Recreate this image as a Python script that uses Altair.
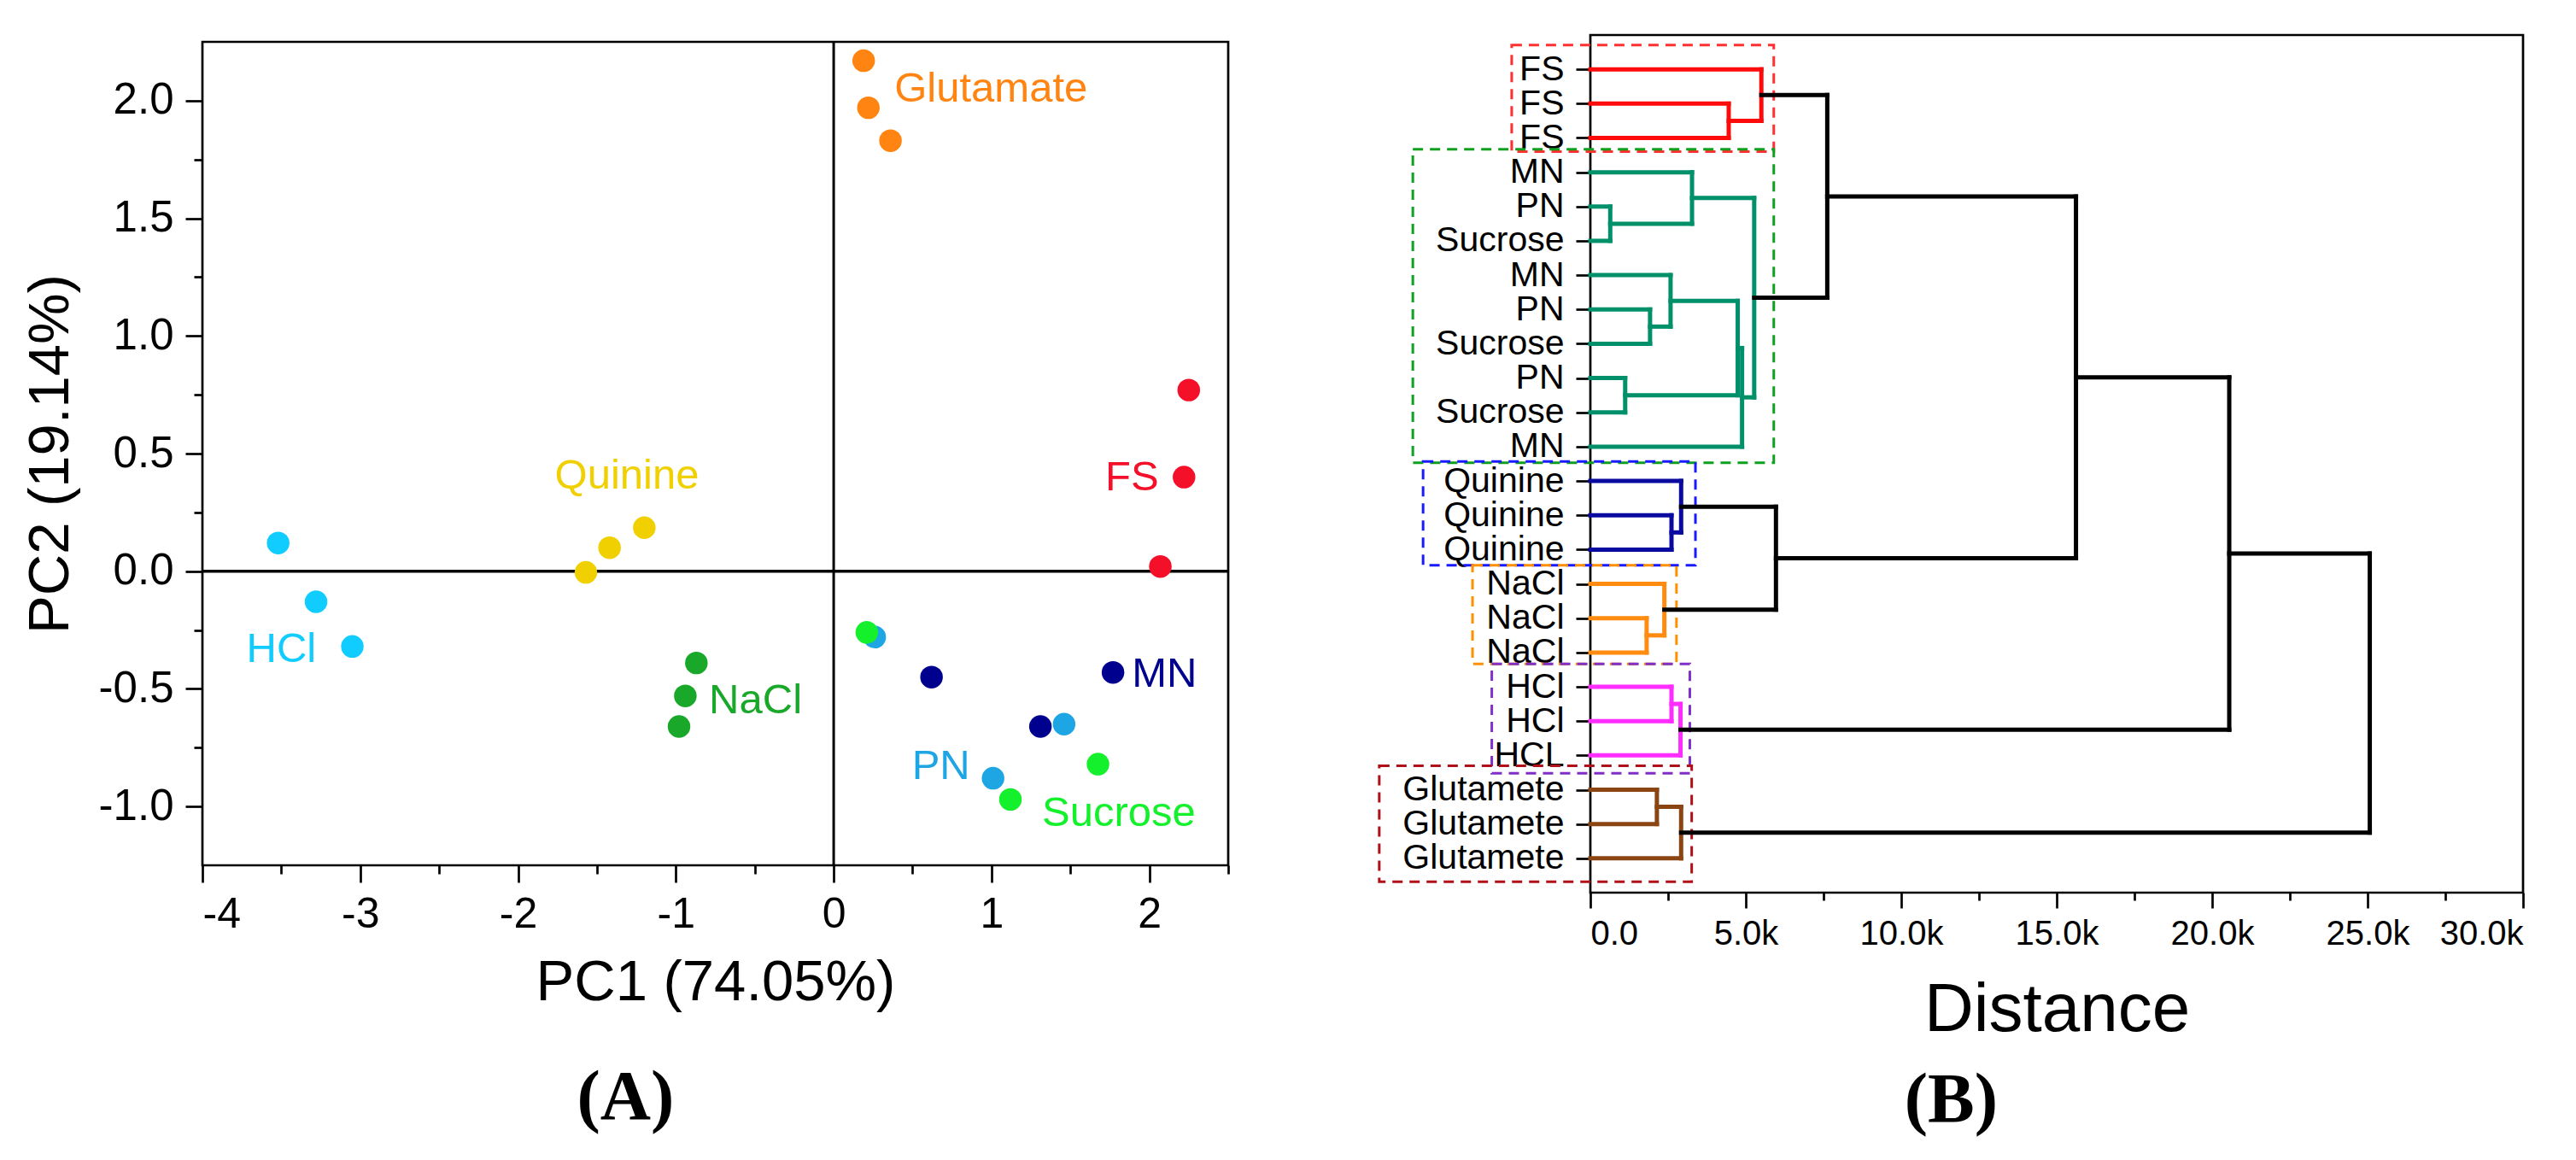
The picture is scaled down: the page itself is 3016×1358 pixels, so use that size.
import altair as alt
import pandas as pd

# ---------------- Panel A : PCA score plot ----------------
mn_pc1 = [0.62, 1.31, 1.77]
mn_pc2 = [-0.45, -0.66, -0.43]
pn_pc1 = [0.26, 1.01, 1.46]
pn_pc2 = [-0.28, -0.88, -0.65]
suc_pc1 = [0.21, 1.12, 1.675]
suc_pc2 = [-0.26, -0.97, -0.82]
glu_pc1 = [0.19, 0.22, 0.36]
glu_pc2 = [2.17, 1.97, 1.83]
fs_pc1 = [2.25, 2.22, 2.07]
fs_pc2 = [0.77, 0.40, 0.02]
qui_pc1 = [-1.20, -1.42, -1.57]
qui_pc2 = [0.185, 0.10, -0.005]
hcl_pc1 = [-3.52, -3.28, -3.05]
hcl_pc2 = [0.12, -0.13, -0.32]
nacl_pc1 = [-0.87, -0.94, -0.98]
nacl_pc2 = [-0.39, -0.53, -0.66]

group_names = ["MN", "PN", "Sucrose", "Glutamate", "FS", "Quinine", "HCl", "NaCl"]
group_colors = ["#00008f", "#1ea5e3", "#14f02c", "#ff8411", "#f5102a", "#f0d000", "#11ccff", "#1aa82a"]

label_text = ["Glutamate", "Quinine", "FS", "HCl", "NaCl", "MN", "PN", "Sucrose"]
label_x = [0.385, -1.31, 2.06, -3.50, -0.79, 1.89, 0.68, 1.32]
label_y = [2.05, 0.405, 0.40, -0.33, -0.55, -0.435, -0.83, -1.03]
label_align = ["left", "center", "right", "center", "left", "left", "center", "left"]

x_ticks_a = [-4 + 0.5 * i for i in range(14)]
y_ticks_a = [-1.0 + 0.25 * i for i in range(13)]

# ---------------- Panel B : dendrogram ----------------
leaf_labels = ["FS", "FS", "FS", "MN", "PN", "Sucrose", "MN", "PN", "Sucrose",
               "PN", "Sucrose", "MN", "Quinine", "Quinine", "Quinine",
               "NaCl", "NaCl", "NaCl", "HCl", "HCl", "HCL",
               "Glutamete", "Glutamete", "Glutamete"]
# merges (node ids: leaves 0..23, merges 24..)
merge_left = [1, 0, 4, 3, 7, 6, 9, 29, 31, 27, 25, 13, 12, 16, 15, 36, 34, 18, 41, 40, 21, 44, 43]
merge_right = [2, 24, 5, 26, 8, 28, 10, 30, 11, 32, 33, 14, 35, 17, 37, 38, 39, 19, 20, 42, 22, 23, 45]
merge_height = [4.45, 5.50, 0.64, 3.27, 1.92, 2.58, 1.12, 4.74, 4.88, 5.27, 7.62,
                2.61, 2.92, 1.81, 2.38, 5.97, 15.62, 2.61, 2.90, 20.55, 2.14, 2.92, 25.07]
RED, GRN, NAV, ORG, MAG, BRN, BLK = "#ff0a0a", "#00906a", "#0a0aa0", "#ff8c10", "#ff2cff", "#8b4513", "#000000"
merge_color = [RED, RED, GRN, GRN, GRN, GRN, GRN, GRN, GRN, GRN, BLK,
               NAV, NAV, ORG, ORG, BLK, BLK, MAG, MAG, BLK, BRN, BRN, BLK]

box_x1 = [-2.53, -5.71, -5.38, -3.79, -3.17, -6.79]
box_x2 = [5.90, 5.90, 3.38, 2.77, 3.20, 3.26]
box_y1 = [-0.71, 2.33, 11.43, 14.46, 17.33, 20.30]
box_y2 = [2.40, 11.47, 14.46, 17.33, 20.52, 23.68]
box_color = ["#ff3030", "#10a020", "#1a1aff", "#ff9000", "#8030c8", "#b01018"]

x_ticks_b = [2.5 * i for i in range(13)]

FONT = "Liberation Sans"

# ---- build tables ----
pts = pd.DataFrame({
    "pc1": mn_pc1 + pn_pc1 + suc_pc1 + glu_pc1 + fs_pc1 + qui_pc1 + hcl_pc1 + nacl_pc1,
    "pc2": mn_pc2 + pn_pc2 + suc_pc2 + glu_pc2 + fs_pc2 + qui_pc2 + hcl_pc2 + nacl_pc2,
    "group": sum([[g] * 3 for g in group_names], []),
})
labs = pd.DataFrame({"text": label_text, "x": label_x, "y": label_y, "align": label_align})

color_scale = alt.Scale(domain=group_names, range=group_colors)
xs_a = alt.Scale(domain=[-4, 2.5], nice=False, zero=False)
ys_a = alt.Scale(domain=[-1.25, 2.25], nice=False, zero=False)

common_axis = dict(labelFont=FONT, titleFont=FONT, labelColor="black", titleColor="black",
                   tickColor="black", tickWidth=2.7, domain=False, grid=False,
                   titleFontWeight="normal", labelOverlap=False, labelLimit=1000)

x_axis_a = alt.Axis(
    values=x_ticks_a, title="PC1 (74.05%)", titleFontSize=67, titlePadding=22,
    labelFontSize=50, labelPadding=12,
    labelExpr="abs(datum.value % 1) < 0.001 ? toString(datum.value) : ''",
    tickSize={"condition": {"test": "abs(datum.value % 1) < 0.001", "value": 20}, "value": 10},
    **common_axis,
)
y_axis_a = alt.Axis(
    values=y_ticks_a, title="PC2 (19.14%)", titleFontSize=67, titlePadding=22,
    labelFontSize=51, labelPadding=14,
    labelExpr="abs((datum.value * 2) % 1) < 0.001 ? replace(format(datum.value, '.1f'), '\u2212', '-') : ''",
    tickSize={"condition": {"test": "abs((datum.value * 2) % 1) < 0.001", "value": 20}, "value": 10},
    **common_axis,
)

base_a = alt.Chart(pts)
points = base_a.mark_circle(size=700, opacity=1).encode(
    x=alt.X("pc1:Q", scale=xs_a, axis=x_axis_a),
    y=alt.Y("pc2:Q", scale=ys_a, axis=y_axis_a),
    color=alt.Color("group:N", scale=color_scale, legend=None),
)
zero_df = pd.DataFrame({"z": [0.0]})
vline = alt.Chart(zero_df).mark_rule(color="black", strokeWidth=3).encode(x=alt.X("z:Q", scale=xs_a))
hline = alt.Chart(zero_df).mark_rule(color="black", strokeWidth=3.5).encode(y=alt.Y("z:Q", scale=ys_a))

text_layers = []
for al in ["left", "center", "right"]:
    text_layers.append(
        alt.Chart(labs).transform_filter(alt.datum.align == al).mark_text(
            align=al, baseline="middle", font=FONT, fontSize=49
        ).encode(
            x=alt.X("x:Q", scale=xs_a),
            y=alt.Y("y:Q", scale=ys_a),
            text="text:N",
            color=alt.Color("text:N", scale=color_scale, legend=None),
        )
    )

panel_a = alt.layer(vline, hline, points, *text_layers).properties(
    width=1201, height=964,
    title=alt.TitleParams(text="(A)", orient="bottom", anchor="middle", frame="bounds",
                          font="Liberation Serif", fontSize=82, fontWeight="bold",
                          color="black", offset=62),
)

spacer = alt.Chart(zero_df).mark_point(size=1, opacity=0).encode(
    x=alt.value(0), y=alt.value(0)
).properties(width=1, height=1, view=alt.ViewBackground(stroke="transparent"))

left_col = alt.vconcat(spacer, panel_a, spacing=2)

# dendrogram segments
node_x = [0.0] * len(leaf_labels)
node_y = [float(i) for i in range(len(leaf_labels))]
segs = []
for l, r, h, c in zip(merge_left, merge_right, merge_height, merge_color):
    yl, yr = node_y[l], node_y[r]
    segs.append({"x": node_x[l], "x2": h, "y": yl, "y2": yl, "c": c})
    segs.append({"x": node_x[r], "x2": h, "y": yr, "y2": yr, "c": c})
    segs.append({"x": h, "x2": h, "y": yl, "y2": yr, "c": c})
    node_x.append(h)
    node_y.append((yl + yr) / 2)
seg_df = pd.DataFrame(segs)
box_df = pd.DataFrame({"x1": box_x1, "x2": box_x2, "y1": box_y1, "y2": box_y2, "c": box_color})

xs_b = alt.Scale(domain=[0, 30], nice=False, zero=False)
ys_b = alt.Scale(domain=[-1, 24], nice=False, zero=False, reverse=True)

lab_array = "[" + ",".join("'" + s + "'" for s in leaf_labels) + "]"
x_axis_b = alt.Axis(
    values=x_ticks_b, title="Distance", titleFontSize=80, titlePadding=30,
    labelFontSize=40, labelPadding=10,
    labelExpr="datum.value % 5 === 0 ? (datum.value === 0 ? '0.0' : format(datum.value, '.1f') + 'k') : ''",
    tickSize={"condition": {"test": "datum.value % 5 === 0", "value": 18}, "value": 9},
    **common_axis,
)
y_axis_b = alt.Axis(
    values=list(range(len(leaf_labels))), title=None, labelFontSize=41,
    labelPadding=14, tickSize=17,
    labelExpr=lab_array + "[datum.value]",
    **common_axis,
)

boxes = alt.Chart(box_df).mark_rect(filled=False, strokeWidth=3, strokeDash=[12, 8]).encode(
    x=alt.X("x1:Q", scale=xs_b, axis=x_axis_b),
    x2="x2:Q",
    y=alt.Y("y1:Q", scale=ys_b, axis=y_axis_b),
    y2="y2:Q",
    stroke=alt.Stroke("c:N", scale=None),
)
branches = alt.Chart(seg_df).mark_rule(strokeWidth=5, strokeCap="square").encode(
    x=alt.X("x:Q", scale=xs_b),
    x2="x2:Q",
    y=alt.Y("y:Q", scale=ys_b),
    y2="y2:Q",
    color=alt.Color("c:N", scale=None),
)

panel_b = alt.layer(boxes, branches).properties(
    width=1092, height=1004,
    title=alt.TitleParams(text="(B)", orient="bottom", anchor="middle", frame="bounds",
                          font="Liberation Serif", fontSize=82, fontWeight="bold",
                          color="black", offset=26),
)

chart = alt.hconcat(left_col, panel_b, spacing=169).properties(
    padding={"left": 15, "top": 31, "right": 5, "bottom": 5},
    background="white",
).configure_view(stroke="black", strokeWidth=2.7)

chart.save("out.html", embed_options={"renderer": "svg", "actions": False})
